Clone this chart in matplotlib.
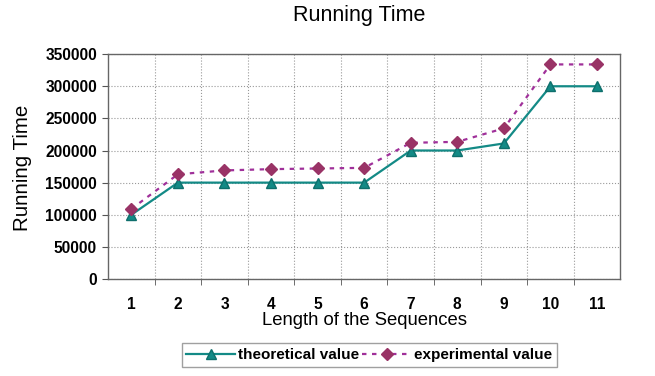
import matplotlib.pyplot as plt
from matplotlib.ticker import FixedLocator

lengths = [1, 2, 3, 4, 5, 6, 7, 8, 9, 10, 11]
theoretical = [100000, 150000, 150000, 150000, 150000, 150000, 200000, 200000, 211000, 300000, 300000]
experimental = [109000, 163000, 169000, 171000, 172000, 173000, 212000, 213500, 234500, 334000, 334000]
y_ticks = [0, 50000, 100000, 150000, 200000, 250000, 300000, 350000]

plt.rcParams["font.family"] = ["Liberation Sans", "DejaVu Sans"]

fig = plt.figure(figsize=(6.55, 3.76), dpi=100)
ax = fig.add_axes([0.165, 0.258, 0.782, 0.598])

ax.plot(lengths, theoretical, color="#138A86", lw=1.6, marker="^", ms=7.5,
        markerfacecolor="#138A86", markeredgecolor="#0E6F6C", label="theoretical value")
ax.plot(lengths, experimental, color="#A0309A", lw=1.6, ls=(0, (2, 2.5)), marker="D", ms=6.5,
        markerfacecolor="#993366", markeredgecolor="#993366", label="experimental value")

ax.set_xlim(0.5, 11.5)
ax.set_ylim(0, 350000)
ax.set_xticks(lengths)
ax.set_xticklabels([str(v) for v in lengths], fontweight="bold", fontsize=11.2)
ax.xaxis.set_minor_locator(FixedLocator([v + 0.5 for v in lengths[:-1]]))
ax.set_yticks(y_ticks)
ax.set_yticklabels([str(v) for v in y_ticks], fontweight="bold", fontsize=11.2)
ax.tick_params(axis="x", which="major", length=0, pad=13)
ax.tick_params(axis="x", which="minor", length=4, color="#555555")
ax.tick_params(axis="y", length=4, color="#555555", pad=4)

ax.grid(True, axis="y", which="major", ls=":", color="#999999", lw=0.8)
ax.grid(True, axis="x", which="minor", ls=":", color="#999999", lw=0.8)
for s in ax.spines.values():
    s.set_color("#666666")
    s.set_linewidth(1.0)

fig.text(359 / 655, 1 - 15 / 376, "Running Time", fontsize=15.5, ha="center", va="center")
ax.set_xlabel("Length of the Sequences", fontsize=13.3, labelpad=0)
fig.text(23 / 655, 1 - 168 / 376, "Running Time", fontsize=14.8, rotation=90, ha="center", va="center")

leg = ax.legend(loc="center", bbox_to_anchor=(0.51, -0.338), ncol=2, frameon=True,
                fancybox=False, edgecolor="#888888", fontsize=11, handlelength=3.2,
                columnspacing=0.2, handletextpad=0.2, borderpad=0.3)
for t in leg.get_texts():
    t.set_fontweight("bold")

plt.savefig("out.png", dpi=100)
